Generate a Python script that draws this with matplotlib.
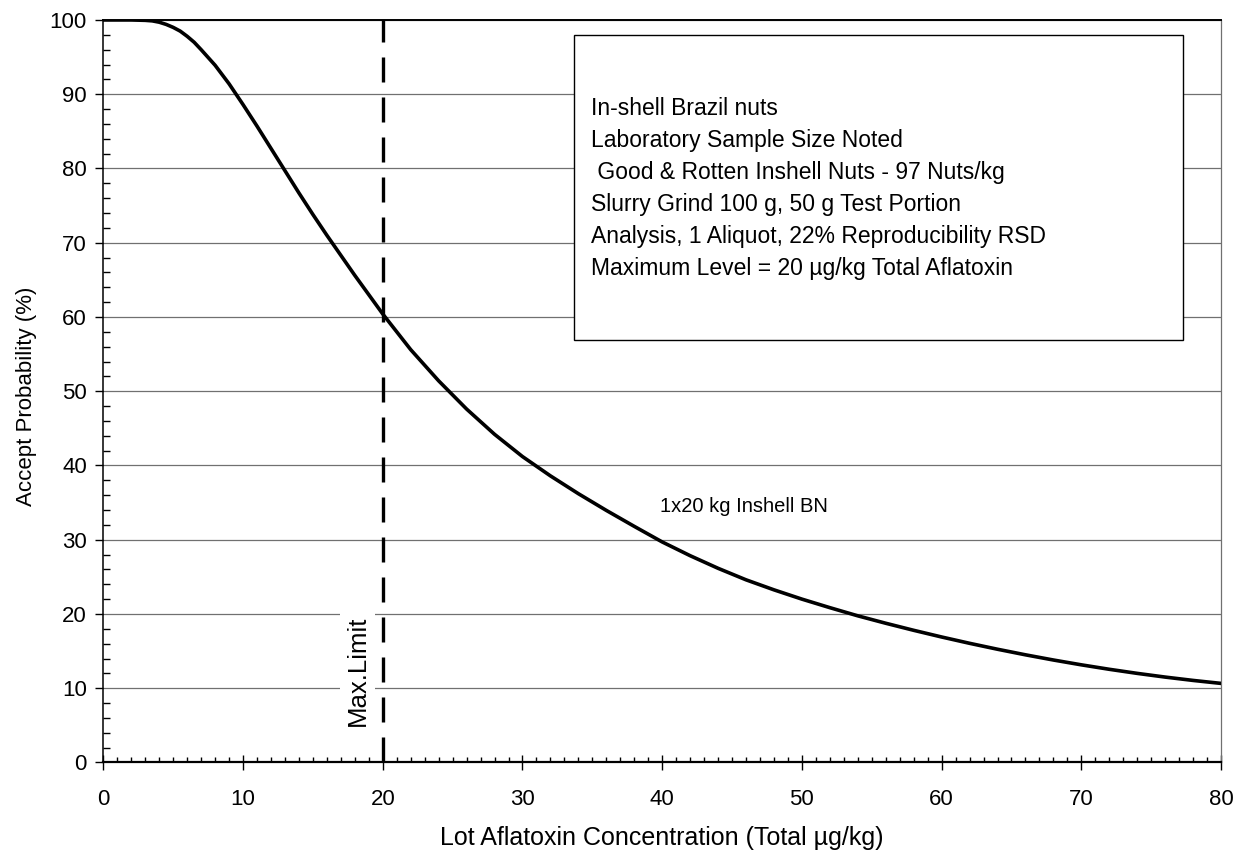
import matplotlib.pyplot as plt
from matplotlib.ticker import MultipleLocator
from matplotlib.patches import Rectangle

plt.rcParams['font.family'] = ['Liberation Sans', 'DejaVu Sans']

# lot concentration (total ug/kg) vs accept probability (%)
conc = [0, 1, 2, 3, 3.5, 4, 4.5, 5, 5.5, 6, 6.5, 7, 8, 9, 10, 11, 12, 13, 14, 15,
        16, 17, 18, 19, 20, 22, 24, 26, 28, 30, 32, 34, 36, 38, 40, 42, 44, 46,
        48, 50, 52, 54, 56, 58, 60, 62, 64, 66, 68, 70, 72, 74, 76, 78, 80]
accept = [100, 100, 100, 99.95, 99.88, 99.7, 99.4, 99.0, 98.5, 97.8, 97.0, 96.0,
          93.9, 91.4, 88.6, 85.7, 82.7, 79.7, 76.7, 73.8, 71.0, 68.3, 65.6, 63.0,
          60.4, 55.6, 51.4, 47.6, 44.2, 41.2, 38.6, 36.2, 33.95, 31.8, 29.7, 27.85,
          26.15, 24.6, 23.25, 22.0, 20.85, 19.75, 18.75, 17.8, 16.9, 16.05, 15.25,
          14.5, 13.8, 13.15, 12.55, 12.0, 11.5, 11.05, 10.65]

max_limit = 20
curve_label = '1x20 kg Inshell BN'
info_lines = [
    'In-shell Brazil nuts',
    'Laboratory Sample Size Noted',
    ' Good & Rotten Inshell Nuts - 97 Nuts/kg',
    'Slurry Grind 100 g, 50 g Test Portion',
    'Analysis, 1 Aliquot, 22% Reproducibility RSD',
    'Maximum Level = 20 \u00b5g/kg Total Aflatoxin',
]

fig = plt.figure(figsize=(12.48, 8.57), dpi=100)
ax = fig.add_axes([0.0828, 0.1103, 0.8956, 0.8664])

ax.set_xlim(0, 80)
ax.set_ylim(0, 100)

ax.yaxis.grid(True, color='#707070', linewidth=0.9, zorder=0)
ax.set_axisbelow(True)

ax.plot(conc, accept, color='black', linewidth=2.6, zorder=3)
# dashed max limit line, drawn upward from 0 so the dash pattern starts at the axis
ax.plot([max_limit, max_limit], [0, 100], color='black', linewidth=2.4,
        dashes=(7.5, 4.5), zorder=4, clip_on=False)

ax.text(18.2, 12.3, 'Max.Limit', rotation=90, ha='center', va='center',
        fontsize=18.5, zorder=5,
        bbox=dict(facecolor='white', edgecolor='none', pad=4))

ax.text(39.85, 33.8, curve_label, fontsize=14.5, ha='left', va='baseline', zorder=5)

# info box
ax.add_patch(Rectangle((33.7, 56.9), 43.6, 41.1, facecolor='white',
                       edgecolor='black', linewidth=1.0, zorder=5))
for i, line in enumerate(info_lines):
    ax.text(34.9, 87.2 - i * 4.31, line, fontsize=16.5, ha='left', va='baseline',
            zorder=6)

# ticks
ax.xaxis.set_major_locator(MultipleLocator(10))
ax.xaxis.set_minor_locator(MultipleLocator(1))
ax.yaxis.set_major_locator(MultipleLocator(10))
ax.yaxis.set_minor_locator(MultipleLocator(2))
ax.tick_params(axis='x', which='major', direction='inout', length=10.8, width=1,
               labelsize=16, pad=14)
ax.tick_params(axis='x', which='minor', direction='in', length=3.6, width=1)
ax.tick_params(axis='y', which='major', direction='out', length=5.8, width=1,
               labelsize=16, pad=6)
ax.tick_params(axis='y', which='minor', direction='in', length=5, width=1)

ax.spines['bottom'].set_linewidth(1.6)
ax.spines['left'].set_linewidth(1.1)
ax.spines['top'].set_linewidth(1.4)
ax.spines['right'].set_color('#707070')
ax.spines['right'].set_linewidth(0.9)

ax.set_xlabel('Lot Aflatoxin Concentration (Total \u00b5g/kg)', fontsize=18)
ax.xaxis.set_label_coords(0.5, -0.1015)
ax.xaxis.label.set_va('center')
ax.set_ylabel('Accept Probability (%)', fontsize=16)
ax.yaxis.set_label_coords(-0.0688, 0.493)
ax.yaxis.label.set_va('center')

fig.savefig('out.png', dpi=100)
